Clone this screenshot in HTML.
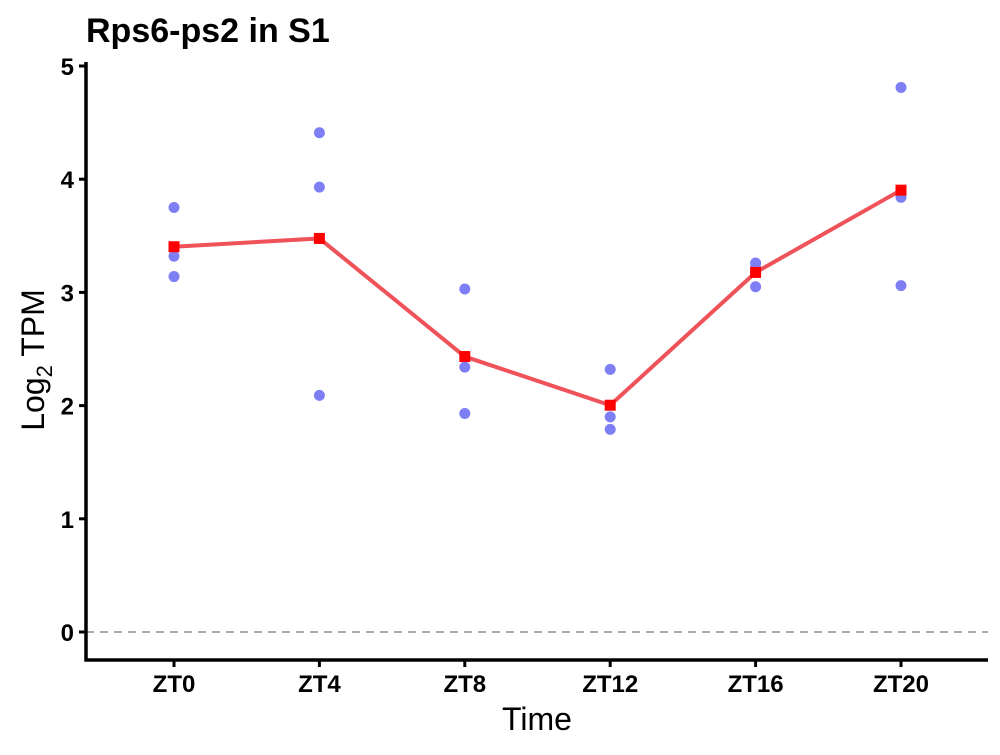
<!DOCTYPE html>
<html><head><meta charset="utf-8"><style>
body{margin:0;background:#fff;font-family:"Liberation Sans",sans-serif}
</style></head><body>
<svg width="1000" height="750" id="c">
<text x="86" y="42" font-size="34" font-weight="bold">Rps6-ps2 in S1</text>
<g id="grid"></g><g id="axes"></g><g id="marks"></g>
<text x="537" y="730" font-size="32" text-anchor="middle">Time</text>
<text transform="translate(44,360) rotate(-90)" font-size="32" text-anchor="middle">Log<tspan font-size="22" dy="8">2</tspan><tspan dy="-8"> TPM</tspan></text>
</svg>
<script>
const categories=["ZT0","ZT4","ZT8","ZT12","ZT16","ZT20"];
const rep1=[3.75,4.41,3.03,2.32,3.26,4.81];
const rep2=[3.32,3.93,2.34,1.90,3.22,3.84];
const rep3=[3.14,2.09,1.93,1.79,3.05,3.06];
const yTicks=[0,1,2,3,4,5];
const NS="http://www.w3.org/2000/svg";
const x=i=>174+i*145.4, y=v=>632-v*113.2;
function mk(t,a,p){const e=document.createElementNS(NS,t);for(const k in a)e.setAttribute(k,a[k]);p.appendChild(e);return e;}
const axes=document.getElementById('axes'),marks=document.getElementById('marks'),grid=document.getElementById('grid');
let z=mk('line',{x1:86,x2:988,y1:y(0),y2:y(0),stroke:'#aaa','stroke-width':2,'stroke-dasharray':'8,6'},grid);

let a=mk('path',{d:'M86,62V660H988',fill:'none',stroke:'#000','stroke-width':3.5},axes);

yTicks.forEach(v=>{mk('line',{x1:79,x2:86,y1:y(v),y2:y(v),stroke:'#000','stroke-width':3},axes);
const t=mk('text',{x:74,y:y(v)+9,'font-size':24,'font-weight':'bold','text-anchor':'end'},axes);t.textContent=v;
});
categories.forEach((c,i)=>{mk('line',{x1:x(i),x2:x(i),y1:660,y2:667,stroke:'#000','stroke-width':3},axes);
const t=mk('text',{x:x(i),y:692,'font-size':24,'font-weight':'bold','text-anchor':'middle'},axes);t.textContent=c;
});
[rep1,rep2,rep3].forEach(r=>r.forEach((v,i)=>{const p=mk('circle',{cx:x(i),cy:y(v),r:5.5,fill:'#7f7ff5'},marks);
}));
const means=categories.map((c,i)=>(rep1[i]+rep2[i]+rep3[i])/3);
const l=mk('polyline',{points:means.map((m,i)=>x(i)+','+y(m)).join(' '),fill:'none',stroke:'#f0525a','stroke-width':4},marks);

means.forEach((m,i)=>{const s=mk('rect',{x:x(i)-5.5,y:y(m)-5.5,width:11,height:11,fill:'#f00'},marks);
});
</script></body></html>
